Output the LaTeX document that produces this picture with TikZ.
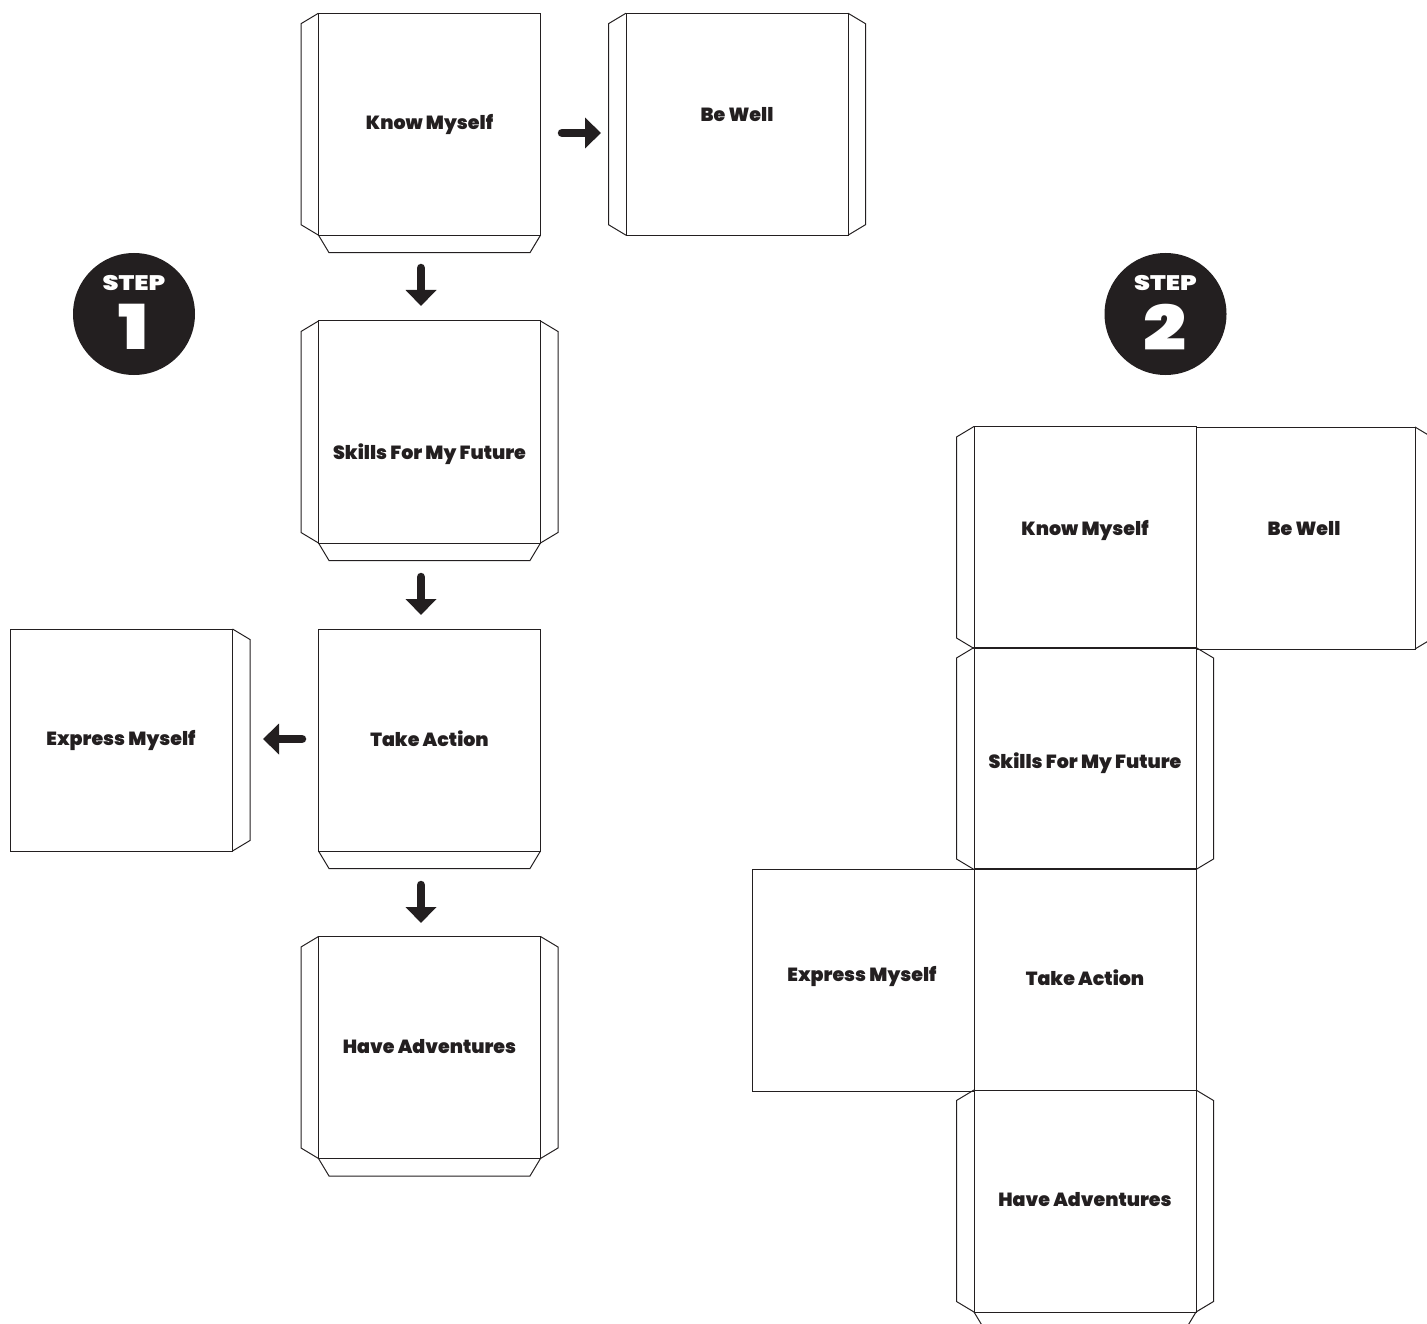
\documentclass[tikz,border=0pt]{standalone}
\usepackage{fontspec}
\setmainfont{Poppins Black}
\newfontfamily\widefont[FakeStretch=1.22]{Poppins Black}
\usetikzlibrary{calc,arrows.meta}
\definecolor{ink}{HTML}{231F20}
\tikzset{
  facebox/.style={draw=ink,line width=1pt,inner sep=0pt,outer sep=0pt,minimum width=222pt,minimum height=222pt},
  tabline/.style={draw=ink,line width=1pt,line join=miter},
  facelabel/.style={text=ink,font=\fontsize{19}{20}\selectfont,inner sep=0pt},
  bigarrow/.style={draw=ink,line width=8.5pt,line cap=round,-{Triangle[length=16pt,width=30pt,fill=ink]}},
  badge/.style={circle,fill=ink,minimum size=122pt,inner sep=0pt},
  badgeword/.style={text=white,font=\widefont\fontsize{21}{24}\selectfont,inner sep=0pt},
  badgenum/.style={text=white,font=\widefont\fontsize{62}{64}\selectfont,inner sep=0pt}
}
\newcommand{\tabL}[1]{\draw[tabline] (#1.north west) -- ++(-17.5,10.5) -- ($(#1.south west)+(-17.5,-10.5)$) -- (#1.south west);}
\newcommand{\tabR}[1]{\draw[tabline] (#1.north east) -- ++(17.5,10.5) -- ($(#1.south east)+(17.5,-10.5)$) -- (#1.south east);}
\newcommand{\tabB}[1]{\draw[tabline] (#1.south west) -- ++(10.5,17.5) -- ($(#1.south east)+(-10.5,17.5)$) -- (#1.south east);}
\begin{document}
\begin{tikzpicture}[x=1pt,y=-1pt]
\useasboundingbox (0,0) rectangle (1427,1324);
\clip (0,0) rectangle (1427,1324);
% step 1
\node[facebox] (a1) at (429.5,124.2) {};
\node[facebox] (a2) at (737,124.2) {};
\node[facebox] (a3) at (429.5,432) {};
\node[facebox] (a4) at (429.5,740) {};
\node[facebox] (a5) at (121.5,740) {};
\node[facebox] (a6) at (429.5,1047.5) {};
\tabL{a1}\tabB{a1}
\tabL{a2}\tabR{a2}
\tabL{a3}\tabR{a3}\tabB{a3}
\tabB{a4}
\tabR{a5}
\tabL{a6}\tabR{a6}\tabB{a6}
\node[facelabel] (l1) at (429.5,124.5) {Know Myself};
\node[facelabel] (l2) at (737,115) {Be Well};
\node[facelabel] (l3) at (429.5,454.5) {Skills For My Future};
\node[facelabel] (l4) at (429.5,738.5) {Take Action};
\node[facelabel] (l5) at (121,740.5) {Express Myself};
\node[facelabel] (l6) at (429.5,1047) {Have Adventures};
% arrows
\coordinate (p1s) at (562,133); \coordinate (p1e) at (601,133);
\coordinate (p2s) at (421,268); \coordinate (p2e) at (421,306);
\coordinate (p3s) at (421,577); \coordinate (p3e) at (421,615);
\coordinate (p4s) at (302,739); \coordinate (p4e) at (263,739);
\coordinate (p5s) at (421,885); \coordinate (p5e) at (421,923);
\foreach \n in {1,...,5} \draw[bigarrow] (p\n s) -- (p\n e);
% badges
\node[badge] (b1) at (134,314) {};
\node[badgeword] (b1w) at (134,283.5) {STEP};
\node[badgenum] (b1n) at (134,327) {1};
\node[badge] (b2) at (1165.5,314) {};
\node[badgeword] (b2w) at (1165.5,283.5) {STEP};
\node[badgenum] (b2n) at (1165,327) {2};
% step 2
\node[facebox] (c1) at (1085,537.5) {};
\node[facebox,minimum width=219pt] (c2) at (1305.5,538) {};
\node[facebox] (c3) at (1085,758.5) {};
\node[facebox] (c4) at (1085,979.5) {};
\node[facebox] (c5) at (863.5,980) {};
\node[facebox] (c6) at (1085,1201) {};
\tabL{c1}
\tabR{c2}
\tabL{c3}\tabR{c3}
\tabL{c6}\tabR{c6}\tabB{c6}
\node[facelabel] (m1) at (1085,530.5) {Know Myself};
\node[facelabel] (m2) at (1304,529) {Be Well};
\node[facelabel] (m3) at (1085,763.5) {Skills For My Future};
\node[facelabel] (m4) at (1085,977.5) {Take Action};
\node[facelabel] (m5) at (862,976.5) {Express Myself};
\node[facelabel] (m6) at (1085,1200) {Have Adventures};
\end{tikzpicture}
\end{document}
